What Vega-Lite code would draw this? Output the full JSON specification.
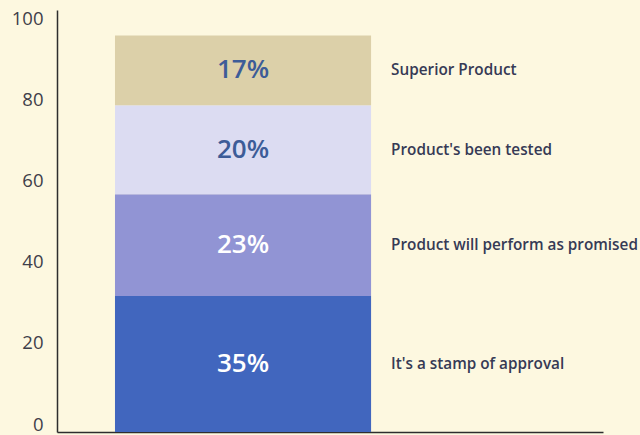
{
  "$schema": "https://vega.github.io/schema/vega-lite/v6.json",
  "autosize": {"type": "none"},
  "width": 546,
  "height": 422,
  "padding": {"left": 57, "top": 10, "right": 37, "bottom": 3},
  "background": "#fdf8e0",
  "config": {
    "view": {"stroke": null},
    "font": "Open Sans"
  },
  "data": {
    "values": [
      {"col": "A", "rank": 1, "reason": "It's a stamp of approval", "label": "35%", "value": 33.5},
      {"col": "A", "rank": 2, "reason": "Product will perform as promised", "label": "23%", "value": 25.1},
      {"col": "A", "rank": 3, "reason": "Product's been tested", "label": "20%", "value": 21.9},
      {"col": "A", "rank": 4, "reason": "Superior Product", "label": "17%", "value": 17.2}
    ]
  },
  "transform": [
    {"stack": "value", "groupby": ["col"], "sort": [{"field": "rank", "order": "ascending"}], "as": ["v0", "v1"]},
    {"calculate": "(datum.v0 + datum.v1) / 2", "as": "mid"}
  ],
  "encoding": {
    "x": {
      "field": "col",
      "type": "nominal",
      "scale": {"paddingInner": 0, "paddingOuter": 0.566, "align": 0.2},
      "axis": {"labels": false, "ticks": false, "title": null, "domainColor": "#2e2e2e", "domainWidth": 1.5}
    }
  },
  "layer": [
    {
      "mark": {"type": "bar", "cornerRadius": 0},
      "encoding": {
        "y": {
          "field": "v0",
          "type": "quantitative",
          "scale": {"domain": [0, 104], "nice": false},
          "axis": {
            "values": [0, 20, 40, 60, 80, 100],
            "ticks": false,
            "grid": false,
            "title": null,
            "labelPadding": 14,
            "labelOffset": -8,
            "labelFontSize": 18.5,
            "labelColor": "#3f3f4a",
            "labelFont": "Open Sans",
            "domainColor": "#2e2e2e",
            "domainWidth": 1.5
          }
        },
        "y2": {"field": "v1"},
        "color": {
          "field": "reason",
          "type": "nominal",
          "legend": null,
          "scale": {
            "domain": ["It's a stamp of approval", "Product will perform as promised", "Product's been tested", "Superior Product"],
            "range": ["#4166be", "#9194d4", "#dcdcf2", "#dcd0a9"]
          }
        }
      }
    },
    {
      "mark": {"type": "text", "fontSize": 26, "fontWeight": 600, "align": "center", "baseline": "middle"},
      "encoding": {
        "y": {"field": "mid", "type": "quantitative"},
        "text": {"field": "label"},
        "color": {
          "condition": {"test": "datum.rank <= 2", "value": "#ffffff"},
          "value": "#3d5c98"
        }
      }
    },
    {
      "mark": {"type": "text", "fontSize": 15.3, "fontWeight": 600, "align": "left", "baseline": "middle", "dx": 20, "color": "#363a55"},
      "encoding": {
        "x": {"field": "col", "type": "nominal", "bandPosition": 1},
        "y": {"field": "mid", "type": "quantitative"},
        "text": {"field": "reason"}
      }
    }
  ]
}
